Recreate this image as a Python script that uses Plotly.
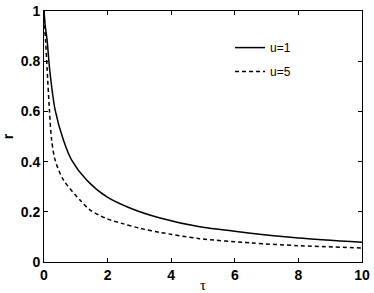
import plotly.graph_objects as go

tau_u1 = [0, 0.04, 0.10, 0.18, 0.35, 0.61, 0.87, 1.34, 1.98, 2.7, 3.65, 4.9, 6.5, 8.0, 10]
r_u1 = [1.0, 0.94, 0.88, 0.765, 0.606, 0.486, 0.406, 0.327, 0.259, 0.215, 0.175, 0.140, 0.115, 0.096, 0.079]

tau_u5 = [0, 0.02, 0.05, 0.10, 0.17, 0.24, 0.35, 0.61, 1.18, 1.45, 1.97, 2.5, 3.0, 3.65, 4.9, 6.5, 8.0, 10]
r_u5 = [1.0, 0.94, 0.88, 0.765, 0.606, 0.486, 0.406, 0.327, 0.240, 0.207, 0.173, 0.152, 0.135, 0.118, 0.093, 0.076, 0.065, 0.056]

x_ticks = [0, 2, 4, 6, 8, 10]
y_ticks = [0, 0.2, 0.4, 0.6, 0.8, 1]
y_tick_labels = ["0", "0.2", "0.4", "0.6", "0.8", "1"]

fig = go.Figure()
fig.add_trace(go.Scatter(x=tau_u1, y=r_u1, mode="lines", name="u=1", legendgroup="a",
                         line=dict(color="black", width=1.5, shape="spline", smoothing=0.8)))
fig.add_trace(go.Scatter(x=tau_u5, y=r_u5, mode="lines", name="u=5", legendgroup="b",
                         line=dict(color="black", width=1.5, dash="4px,3px", shape="spline", smoothing=0.8)))

axis_common = dict(showline=True, linecolor="black", linewidth=1, mirror="ticks",
                   ticks="inside", ticklen=4, tickcolor="black", showgrid=False, zeroline=False,
                   automargin=False,
                   tickfont=dict(family="Liberation Sans, Arial", size=14, color="black", weight="bold"))

fig.update_xaxes(range=[0, 10], tickvals=x_ticks, ticktext=[str(t) for t in x_ticks],
                 title=dict(text="τ", font=dict(family="Liberation Serif", size=15, color="black"), standoff=0),
                 **axis_common)
fig.update_yaxes(range=[0, 1], tickvals=y_ticks, ticktext=y_tick_labels,
                 title=dict(text="r", font=dict(family="Liberation Sans", size=14, color="black", weight="bold"), standoff=4),
                 **axis_common)

fig.update_layout(width=374, height=293, margin=dict(l=44, r=12, t=11, b=31, autoexpand=False),
                  plot_bgcolor="white", paper_bgcolor="white",
                  legend=dict(x=0.585, y=0.912, xanchor="left", yanchor="top", bgcolor="rgba(0,0,0,0)",
                              itemwidth=30, traceorder="grouped", tracegroupgap=5,
                              font=dict(family="Liberation Sans, Arial", size=12, color="black")))

fig.write_html("out.html", config={"displayModeBar": False},
               post_script="document.body.style.margin='0px';document.body.style.overflow='hidden';")
